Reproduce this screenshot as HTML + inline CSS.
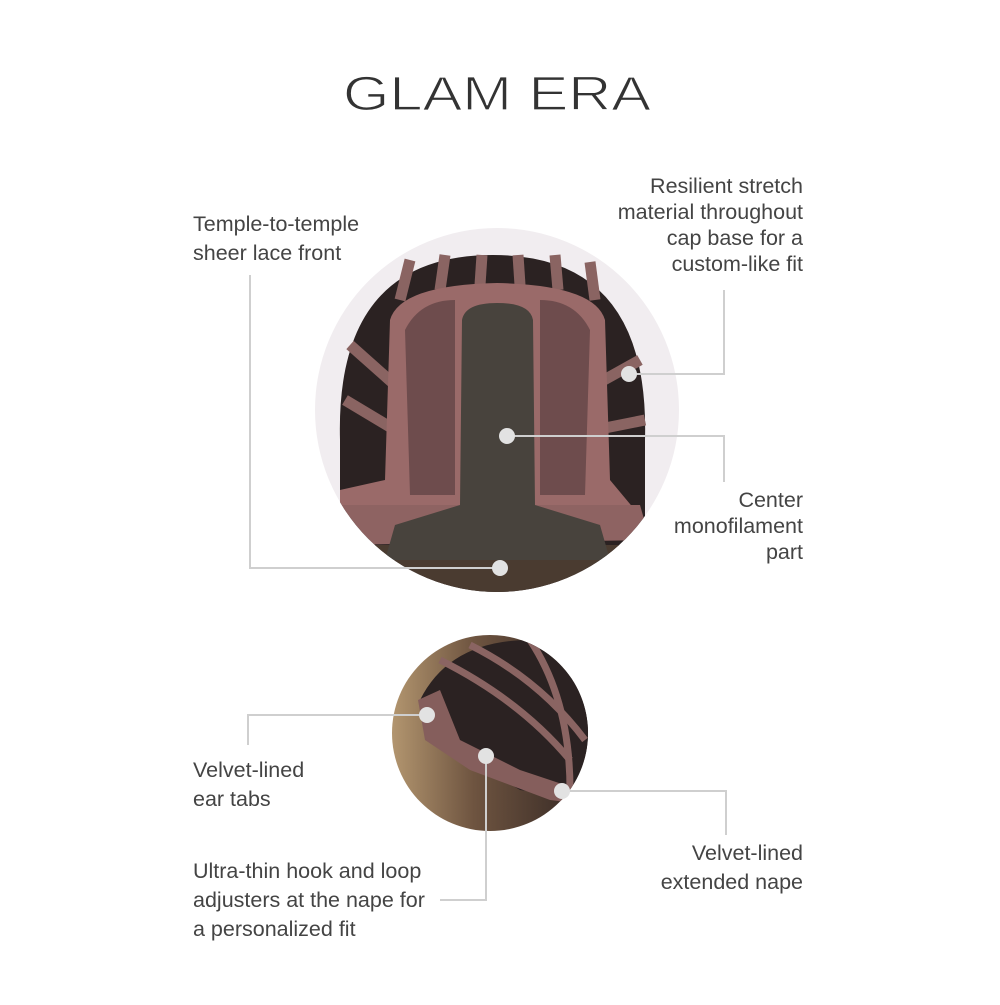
<!DOCTYPE html>
<html><head><style>
body{margin:0;background:#fff;}
svg text{font-family:"Liberation Sans",sans-serif;fill:#444;font-size:21.5px;}
</style></head><body>
<svg width="1000" height="1000" viewBox="0 0 1000 1000">
<defs>
<clipPath id="c1"><circle cx="497" cy="410" r="182"/></clipPath>
<clipPath id="c2"><circle cx="490" cy="733" r="98"/></clipPath>
<linearGradient id="hair" x1="0" y1="0" x2="1" y2="0">
<stop offset="0" stop-color="#b49770"/><stop offset="0.4" stop-color="#6e5440"/><stop offset="1" stop-color="#2d2220"/></linearGradient>
</defs>
<text x="497" y="110" text-anchor="middle" style="font-size:48px;fill:#333;stroke:#fff;stroke-width:1.2px;paint-order:normal" textLength="308" lengthAdjust="spacingAndGlyphs">GLAM ERA</text>
<circle cx="497" cy="410" r="182" fill="#f1edf0"/>
<g clip-path="url(#c1)">
<path d="M340 440 Q335 255 493 255 Q650 255 645 440 L645 600 L340 600Z" fill="#2b2222"/>
<rect x="330" y="545" width="330" height="70" fill="#4a3b30"/>
<g stroke="#8a6462" stroke-width="11">
<line x1="400" y1="300" x2="410" y2="260"/><line x1="440" y1="290" x2="445" y2="255"/>
<line x1="480" y1="285" x2="482" y2="255"/><line x1="520" y1="285" x2="518" y2="255"/>
<line x1="558" y1="290" x2="555" y2="255"/><line x1="595" y1="300" x2="590" y2="262"/>
<line x1="350" y1="345" x2="395" y2="385"/><line x1="345" y1="400" x2="395" y2="430"/>
<line x1="640" y1="360" x2="595" y2="385"/><line x1="645" y1="420" x2="595" y2="430"/>
</g>
<path d="M390 320 Q400 285 497 283 Q595 285 605 320 L610 480 L635 510 L340 510 L340 490 L385 480Z" fill="#9a6a69"/>
<path d="M340 505 L640 505 L650 540 L330 545Z" fill="#8e6362"/>
<path d="M405 330 Q420 300 455 300 L455 495 L410 495Z" fill="#6e4c4d"/>
<path d="M590 330 Q575 300 540 300 L540 495 L585 495Z" fill="#6e4c4d"/>
<path d="M462 320 Q465 303 497 303 Q530 303 533 320 L535 505 L600 525 L610 560 L385 560 L395 525 L460 505Z" fill="#48433d"/>
</g>
<g clip-path="url(#c2)">
<rect x="390" y="630" width="210" height="210" fill="url(#hair)"/>
<path d="M420 700 Q450 640 530 640 Q600 650 600 720 L590 800 L520 790 L470 760 L430 740Z" fill="#2b2222"/>
<g stroke="#8a6462" stroke-width="7" fill="none">
<path d="M440 660 Q520 700 570 760"/><path d="M470 645 Q540 680 585 740"/>
<path d="M530 640 Q570 700 570 790"/>
</g>
<path d="M418 700 L440 690 L460 740 L520 770 L580 790 L590 805 L550 800 L470 770 L440 750 L425 740Z" fill="#855e5c"/>
</g>
<g stroke="#cfcfcf" stroke-width="2" fill="none">
<polyline points="250,275 250,568 500,568"/>
<polyline points="629,374 724,374 724,290"/>
<polyline points="507,436 724,436 724,482"/>
<polyline points="248,745 248,715 427,715"/>
<polyline points="486,756 486,900 440,900"/>
<polyline points="562,791 726,791 726,835"/>
</g>
<g fill="#e2e2e2">
<circle cx="500" cy="568" r="8"/><circle cx="629" cy="374" r="8"/><circle cx="507" cy="436" r="8"/>
<circle cx="427" cy="715" r="8"/><circle cx="486" cy="756" r="8"/><circle cx="562" cy="791" r="8"/>
</g>
<text x="193" y="231">Temple-to-temple</text>
<text x="193" y="260">sheer lace front</text>
<g text-anchor="end">
<text x="803" y="193">Resilient stretch</text>
<text x="803" y="219">material throughout</text>
<text x="803" y="245">cap base for a</text>
<text x="803" y="271">custom-like fit</text>
<text x="803" y="507">Center</text>
<text x="803" y="533">monofilament</text>
<text x="803" y="559">part</text>
<text x="803" y="860">Velvet-lined</text>
<text x="803" y="889">extended nape</text>
</g>
<text x="193" y="777">Velvet-lined</text>
<text x="193" y="806">ear tabs</text>
<text x="193" y="878">Ultra-thin hook and loop</text>
<text x="193" y="907">adjusters at the nape for</text>
<text x="193" y="936">a personalized fit</text>
</svg>
</body></html>
